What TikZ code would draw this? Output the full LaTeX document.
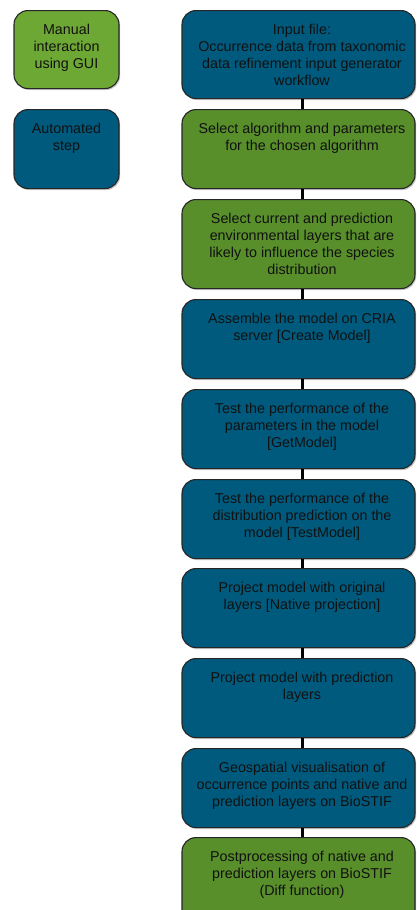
\documentclass[tikz,border=0pt]{standalone}
\usepackage{fontspec}
\setmainfont{Liberation Sans}
\usepackage{tikz}
\usetikzlibrary{shadows,calc}
\definecolor{manual}{RGB}{88,143,43}
\definecolor{manuallight}{RGB}{110,168,52}
\definecolor{automated}{RGB}{0,90,125}
\definecolor{textdark}{RGB}{17,17,17}

% text of a box: fixed height, top aligned, optional right offset
\newcommand{\steptext}[4][0]{\hspace*{#1pt}\parbox[t][#2pt][t]{#3pt}{\centering\rule{0pt}{24pt}#4}}

\begin{document}
\begin{tikzpicture}[
    x=1pt, y=-1pt,
    stepbox/.style={rectangle, rounded corners=14pt, draw=black!85, line width=1.1pt,
        minimum width=233pt, inner sep=0pt, anchor=north, text=textdark,
        font=\fontsize{14.3}{17}\selectfont,
        drop shadow={shadow xshift=1.2pt, shadow yshift=-1.5pt, opacity=0.45}},
    legendbox/.style={stepbox, minimum width=105pt},
    link/.style={draw=black, line width=3pt}
]
    \useasboundingbox (0,0) rectangle (416,910);

    % Legend
    \node[legendbox, fill=manuallight] (manual) at (66.5, 10) {\steptext{78}{100}{Manual\\interaction\\using GUI}};
    \node[legendbox, fill=automated] (auto) at (66.5, 109) {\steptext{79}{100}{Automated\\step}};

    % Workflow steps
    \node[stepbox, fill=automated] (input) at (298.5, 10) {\steptext[7]{88}{226}{Input file:\\Occurrence data from taxonomic\\data refinement input generator\\workflow}};
    \node[stepbox, fill=manual] (algo) at (298.5, 109) {\steptext[7]{79}{226}{Select algorithm and parameters\\for the chosen algorithm}};
    \node[stepbox, fill=manual] (layers) at (298.5, 199) {\steptext[7]{89}{226}{Select current and prediction\\environmental layers that are\\likely to influence the species\\distribution}};
    \node[stepbox, fill=automated] (create) at (298.5, 299) {\steptext[7]{79}{226}{Assemble the model on CRIA\\server [Create Model]}};
    \node[stepbox, fill=automated] (getmodel) at (298.5, 389) {\steptext[7]{79}{226}{Test the performance of the\\parameters in the model\\{[GetModel]}}};
    \node[stepbox, fill=automated] (testmodel) at (298.5, 479) {\steptext[7]{79}{226}{Test the performance of the\\distribution prediction on the\\model [TestModel]}};
    \node[stepbox, fill=automated] (native) at (298.5, 568) {\steptext[7]{79}{226}{Project model with original\\layers [Native projection]}};
    \node[stepbox, fill=automated] (predict) at (298.5, 658) {\steptext[7]{79}{226}{Project model with prediction\\layers}};
    \node[stepbox, fill=automated] (biostif) at (298.5, 748) {\steptext[7]{79}{226}{Geospatial visualisation of\\occurrence points and native and\\prediction layers on BioSTIF}};
    \node[stepbox, fill=manual] (diff) at (298.5, 837) {\steptext[7]{88}{226}{Postprocessing of native and\\prediction layers on BioSTIF\\(Diff function)}};

    % Connectors
    \foreach \a/\b in {input/algo, algo/layers, layers/create, create/getmodel,
        getmodel/testmodel, testmodel/native, native/predict, predict/biostif, biostif/diff}
        \draw[link] ([xshift=3.5pt]\a.south) -- ([xshift=3.5pt]\b.north);
\end{tikzpicture}
\end{document}
